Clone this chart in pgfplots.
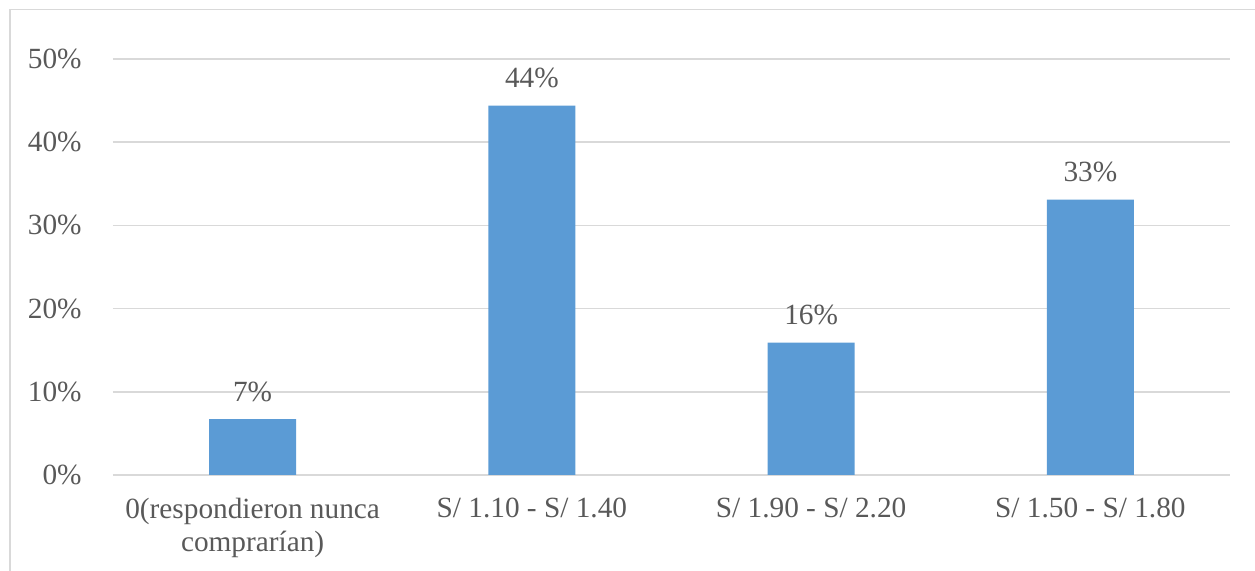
\documentclass[border=0pt]{standalone}
\usepackage{pgfplots}
\pgfplotsset{compat=1.18}
\usepackage{fontspec}
\setmainfont{Liberation Serif}

\definecolor{barblue}{HTML}{5B9BD5}
\definecolor{gridgray}{HTML}{D9D9D9}
\definecolor{textgray}{HTML}{595959}

\pgfplotstableread{
x  val
0  6.7
1  44.4
2  15.9
3  33.1
}\pricedata

\begin{document}
\begin{tikzpicture}
  % page frame and the chart border (left and top edges)
  \useasboundingbox (-56.5pt,-48pt) rectangle (571pt,237.5pt);
  \draw[gridgray, line width=0.75pt] (-51.5pt,-48pt) -- (-51.5pt,232.75pt) -- (571pt,232.75pt);
  \begin{axis}[
    at={(0,0)}, anchor=south west,
    scale only axis,
    width=558.5pt, height=208pt,
    xmin=-0.5, xmax=3.5,
    ymin=0, ymax=50,
    ytick={0,10,...,50},
    xtick=data,
    xticklabels={{0(respondieron nunca\\comprarían)},{S/ 1.10 - S/ 1.40},{S/ 1.90 - S/ 2.20},{S/ 1.50 - S/ 1.80}},
    ymajorgrids,
    grid style={gridgray, line width=0.75pt},
    axis line style={draw=none},
    major tick length=0pt,
    /pgf/number format/assume math mode=true,
    yticklabel={\pgfmathprintnumber{\tick}\%},
    ticklabel style={font=\fontsize{14.65pt}{16.5pt}\selectfont, text=textgray},
    yticklabel style={anchor=east, inner sep=0pt, xshift=-15.5pt},
    xticklabel style={anchor=north, inner sep=0pt, yshift=-11.5pt, align=center},
    clip=false,
  ]
    \addplot[ybar, bar width=43.5pt, fill=barblue, draw=none,
      nodes near coords={\pgfmathprintnumber[fixed,precision=0]{\pgfplotspointmeta}\%},
      nodes near coords style={font=\fontsize{14.65pt}{16.5pt}\selectfont, text=textgray,
        anchor=base, inner sep=0pt, yshift=9pt},
      point meta=y]
      table[x=x, y=val] {\pricedata};
  \end{axis}
\end{tikzpicture}
\end{document}
